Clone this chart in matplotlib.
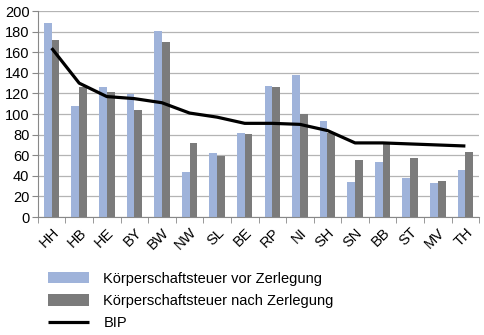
import matplotlib
matplotlib.use("Agg")
import matplotlib.pyplot as plt
import numpy as np

plt.rcParams["font.family"] = ["Liberation Sans", "DejaVu Sans"]
plt.rcParams["font.size"] = 10.5

laender = ["HH", "HB", "HE", "BY", "BW", "NW", "SL", "BE",
           "RP", "NI", "SH", "SN", "BB", "ST", "MV", "TH"]
vor_zerlegung = [188, 108, 126, 119, 181, 44, 62, 82,
                 127, 138, 93, 34, 53, 38, 33, 46]
nach_zerlegung = [172, 126, 121, 104, 170, 72, 59, 81,
                  126, 100, 82, 55, 71, 57, 35, 63]
bip = [164, 130, 117, 115, 111, 101, 97, 91,
       91, 90, 84, 72, 72, 71, 70, 69]

fig = plt.figure(figsize=(4.85, 3.35), dpi=100)
ax = fig.add_axes([0.078, 0.352, 0.910, 0.615])

x = np.arange(len(laender))
w = 0.28
b1 = ax.bar(x - w / 2, vor_zerlegung, width=w, color="#9fb3da", zorder=2)
b2 = ax.bar(x + w / 2, nach_zerlegung, width=w, color="#7b7b7b", zorder=2)
ln, = ax.plot(x, bip, color="black", lw=2.3, zorder=3, solid_capstyle="butt")

ax.set_xlim(-0.5, len(laender) - 0.5)
ax.set_ylim(0, 200)
ax.set_yticks(range(0, 201, 20))
ax.yaxis.grid(True, color="#b4b4b4", lw=0.9, zorder=0)
ax.set_axisbelow(True)

# labels at category centres, tick marks at group boundaries
ax.set_xticks(x)
ax.set_xticklabels(laender, rotation=45, ha="right", rotation_mode="anchor")
ax.set_xticks(np.arange(-0.5, len(laender)), minor=True)
ax.tick_params(axis="x", which="major", length=0, pad=6)
ax.tick_params(axis="x", which="minor", length=4, color="#888888")
ax.tick_params(axis="y", length=4, color="#888888", pad=2)

for side in ["top", "right"]:
    ax.spines[side].set_visible(False)
for side in ["left", "bottom"]:
    ax.spines[side].set_color("#888888")

fig.legend([b1, b2, ln],
           ["Körperschaftsteuer vor Zerlegung",
            "Körperschaftsteuer nach Zerlegung", "BIP"],
           loc="upper left", bbox_to_anchor=(0.099, 0.189),
           frameon=False, borderpad=0, borderaxespad=0,
           handlelength=2.8, handleheight=0.82,
           handletextpad=1.0, labelspacing=0.57, fontsize=10.5)

fig.savefig("out.png", dpi=100)
